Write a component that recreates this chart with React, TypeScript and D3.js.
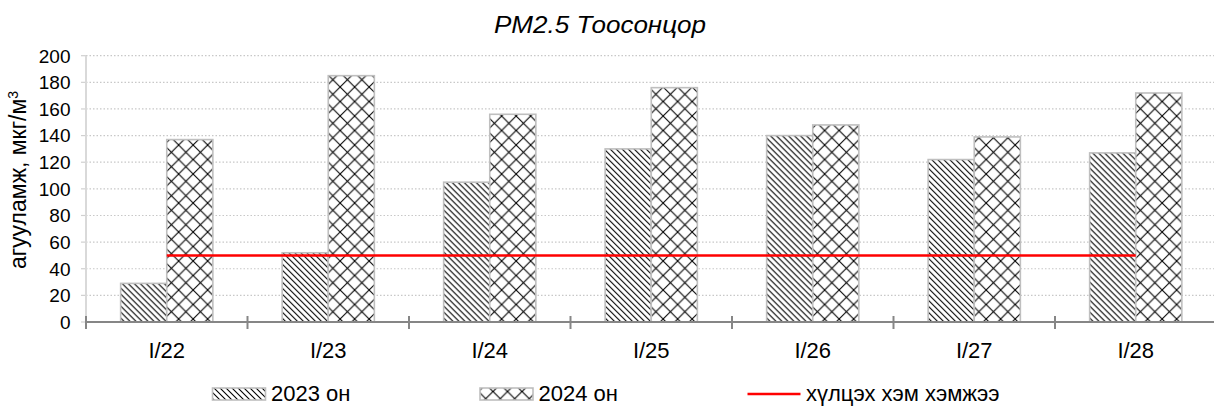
import React from "react";
import * as d3 from "d3";

const categories = ["I/22", "I/23", "I/24", "I/25", "I/26", "I/27", "I/28"];
const series2023 = [29, 52, 105, 130, 140, 122, 127];
const series2024 = [137, 185, 156, 176, 148, 139, 172];
const limitValue = 50;
const yTicks = [0, 20, 40, 60, 80, 100, 120, 140, 160, 180, 200];
const seriesNames = ["2023 он", "2024 он"];
const limitName = "хүлцэх хэм хэмжээ";
const title = "PM2.5 Тоосонцор";
const yLabel = "агууламж, мкг/м";

const W = 1214;
const H = 407;
const FONT = "'Liberation Sans', Arial, sans-serif";

export default function App() {
  const x0 = 86;
  const x1 = 1216.5;
  const y = d3.scaleLinear().domain([0, 200]).range([322, 55.7]);
  const x = d3.scaleBand<string>().domain(categories).range([x0, x1]).padding(0);
  const groupW = x.bandwidth() * 0.571;
  const xs = d3.scaleBand<string>().domain(seriesNames).range([0, groupW]).padding(0);
  const center = (c: string) => (x(c) as number) + x.bandwidth() / 2;
  const fills = ["url(#diag)", "url(#diamond)"];
  const data = [series2023, series2024];

  const limitLine = d3.line<string>()
    .x((c) => center(c))
    .y(() => y(limitValue));

  const legendY = 394;
  const legendItems = [
    { x: 212.5, kind: "bar", fill: fills[0], label: seriesNames[0] },
    { x: 480, kind: "bar", fill: fills[1], label: seriesNames[1] },
    { x: 747.5, kind: "line", fill: "", label: limitName },
  ];

  return (
    <svg width={W} height={H} style={{ position: "absolute", left: 0, top: 0, background: "#fff" }} fontFamily={FONT}>
      <defs>
        <pattern id="diag" patternUnits="userSpaceOnUse" width={6} height={6}>
          <rect width={6} height={6} fill="#fff" />
          <path d="M-1,-1 L7,7 M-1,5 L1,7 M5,-1 L7,1" stroke="#000" strokeWidth={1.1} />
        </pattern>
        <pattern id="diamond" patternUnits="userSpaceOnUse" width={14.5} height={14.5}>
          <rect width={14.5} height={14.5} fill="#fff" />
          <path d="M0,0 L14.5,14.5 M14.5,0 L0,14.5" stroke="#000" strokeWidth={1.1} />
        </pattern>
      </defs>

      {/* title */}
      <text x={494} y={33} fontSize={24} fontStyle="italic" fill="#000" textLength={212} lengthAdjust="spacingAndGlyphs">{title}</text>

      {/* y label */}
      <text transform={`translate(26,180) rotate(-90)`} textAnchor="middle" fontSize={23} fill="#000">
        {yLabel}<tspan dy={-8} fontSize={14}>3</tspan>
      </text>

      {/* grid */}
      {yTicks.map((t) => (
        <g key={t}>
          {t > 0 && (
            <line x1={x0} x2={W} y1={y(t)} y2={y(t)} stroke="#c8c8c8" strokeWidth={1.2} strokeDasharray="1.5,2" />
          )}
          <line x1={81} x2={x0} y1={y(t)} y2={y(t)} stroke="#d0d0d0" strokeWidth={1.2} />
          <text x={70.5} y={y(t)} dy="0.36em" textAnchor="end" fontSize={19} fill="#000">{t}</text>
        </g>
      ))}

      {/* y axis */}
      <line x1={x0} x2={x0} y1={y(200)} y2={y(0)} stroke="#d9d9d9" strokeWidth={2} />

      {/* bars */}
      {categories.map((c, i) => (
        <g key={c} transform={`translate(${center(c) - groupW / 2},0)`}>
          {data.map((s, k) => (
            <rect
              key={k}
              x={xs(seriesNames[k]) as number}
              y={y(s[i])}
              width={xs.bandwidth()}
              height={y(0) - y(s[i])}
              fill={fills[k]}
              stroke="#bfbfbf"
              strokeWidth={1.6}
            />
          ))}
        </g>
      ))}

      {/* limit line */}
      <path d={limitLine(categories) as string} stroke="#ff0000" strokeWidth={2.6} fill="none" />

      {/* x axis */}
      <line x1={x0} x2={W} y1={y(0)} y2={y(0)} stroke="#868686" strokeWidth={2} />
      {[...categories.map((c) => x(c) as number), x1].map((v, i) => (
        <line key={i} x1={v} x2={v} y1={y(0) - 6} y2={y(0) + 7} stroke="#868686" strokeWidth={2} />
      ))}
      {categories.map((c) => (
        <text key={c} x={center(c)} y={350.5} dy="0.36em" textAnchor="middle" fontSize={22} fill="#000">{c}</text>
      ))}

      {/* legend */}
      {legendItems.map((it, i) => (
        <g key={i}>
          {it.kind === "bar" ? (
            <rect x={it.x} y={legendY - 6} width={53} height={12} fill={it.fill} stroke="#bfbfbf" strokeWidth={1.6} />
          ) : (
            <line x1={it.x} x2={it.x + 53} y1={legendY} y2={legendY} stroke="#ff0000" strokeWidth={2.6} />
          )}
          <text x={it.x + 58.5} y={legendY + 7} fontSize={22} fill="#000">{it.label}</text>
        </g>
      ))}
    </svg>
  );
}
